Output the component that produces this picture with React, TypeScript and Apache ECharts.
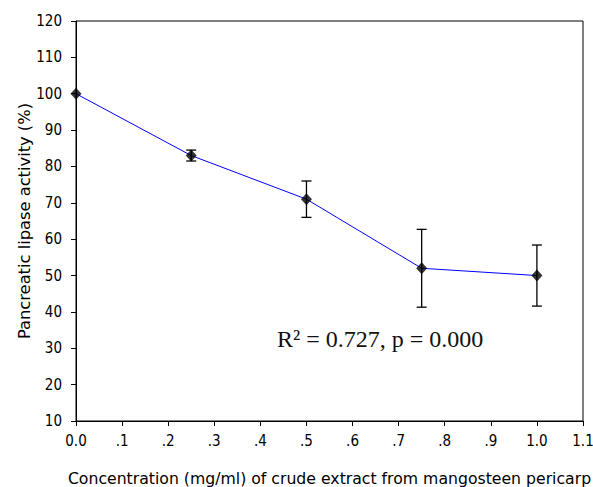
import React, { useEffect, useRef } from "react";
import * as echarts from "echarts";

const concentrations = [0, 0.25, 0.5, 0.75, 1.0];
const activity = [100, 83, 71, 52, 50];
const errors = [0, 1.5, 5, 10.7, 8.4];
const xTickLabels = ["0.0", ".1", ".2", ".3", ".4", ".5", ".6", ".7", ".8", ".9", "1.0", "1.1"];
const annotation = "R² = 0.727, p = 0.000";
const xTitle = "Concentration (mg/ml) of crude extract from mangosteen pericarp";
const yTitle = "Pancreatic lipase activity (%)";

const tickFont = "'Liberation Sans Narrow', 'Arial Narrow', 'DejaVu Sans Condensed', 'Liberation Sans', sans-serif";
const titleFont = "'DejaVu Sans', 'Liberation Sans', sans-serif";

export default function App() {
  const ref = useRef<HTMLDivElement>(null);
  useEffect(() => {
    if (!ref.current) return;
    const chart = echarts.init(ref.current, undefined, { renderer: "svg" });
    const points = concentrations.map((c, i) => [c, activity[i]]);
    const errData = concentrations.map((c, i) => [c, activity[i] - errors[i], activity[i] + errors[i]]);
    chart.setOption({
      animation: false,
      backgroundColor: "#ffffff",
      grid: {
        left: 76,
        right: 10,
        top: 21,
        bottom: 66,
        outerBoundsMode: "none",
        containLabel: false,
        show: true,
        borderColor: "#000",
        borderWidth: 1,
        backgroundColor: "transparent",
      },
      xAxis: {
        type: "value",
        min: 0,
        max: 1.1,
        interval: 0.1,
        splitLine: { show: false },
        axisLine: { show: true, onZero: false, lineStyle: { color: "#000", width: 1 } },
        axisTick: { show: true, inside: false, length: 5, lineStyle: { color: "#000" } },
        axisLabel: {
          color: "#000",
          fontFamily: tickFont,
          fontSize: 15,
          margin: 12,
          showMinLabel: true,
          showMaxLabel: true,
          formatter: (v: number) => xTickLabels[Math.round(v * 10)] ?? "",
        },
        name: xTitle,
        nameLocation: "middle",
        nameGap: 49,
        nameMoveOverlap: false,
        nameTextStyle: { color: "#000", fontFamily: titleFont, fontSize: 15.7 },
      },
      yAxis: {
        type: "value",
        min: 10,
        max: 120,
        interval: 10,
        splitLine: { show: false },
        axisLine: { show: true, onZero: false, lineStyle: { color: "#000", width: 1 } },
        axisTick: { show: true, inside: false, length: 5, lineStyle: { color: "#000" } },
        axisLabel: {
          color: "#000",
          fontFamily: tickFont,
          fontSize: 15,
          margin: 14,
          showMinLabel: true,
          showMaxLabel: true,
        },
        name: yTitle,
        nameLocation: "middle",
        nameRotate: 90,
        nameGap: 44,
        nameMoveOverlap: false,
        nameTextStyle: { color: "#000", fontFamily: titleFont, fontSize: 16.3 },
      },
      graphic: [
        {
          type: "text",
          left: 277,
          top: 327,
          style: {
            text: annotation,
            fill: "#111",
            font: "24px 'Liberation Serif', 'Times New Roman', serif",
          },
        },
      ],
      series: [
        {
          type: "line",
          data: points,
          showSymbol: false,
          lineStyle: { color: "#0000ff", width: 1 },
          z: 2,
        },
        {
          type: "custom",
          data: errData,
          z: 3,
          renderItem: (params: any, api: any) => {
            const x = api.value(0);
            const lo = api.value(1);
            const hi = api.value(2);
            if (hi - lo <= 0) return null;
            const pLo = api.coord([x, lo]);
            const pHi = api.coord([x, hi]);
            const hw = 5;
            const style = { stroke: "#000", lineWidth: 1.3 };
            return {
              type: "group",
              children: [
                { type: "line", shape: { x1: pLo[0], y1: pLo[1], x2: pHi[0], y2: pHi[1] }, style },
                { type: "line", shape: { x1: pLo[0] - hw, y1: pLo[1], x2: pLo[0] + hw, y2: pLo[1] }, style },
                { type: "line", shape: { x1: pHi[0] - hw, y1: pHi[1], x2: pHi[0] + hw, y2: pHi[1] }, style },
              ],
            };
          },
        },
        {
          type: "scatter",
          data: points,
          symbol: "diamond",
          symbolSize: [11, 12],
          itemStyle: { color: "#000" },
          z: 4,
        },
      ],
    });
    return () => chart.dispose();
  }, []);
  return (
    <div
      ref={ref}
      style={{ position: "fixed", left: 0, top: 0, width: 593, height: 487, background: "#fff" }}
    />
  );
}
